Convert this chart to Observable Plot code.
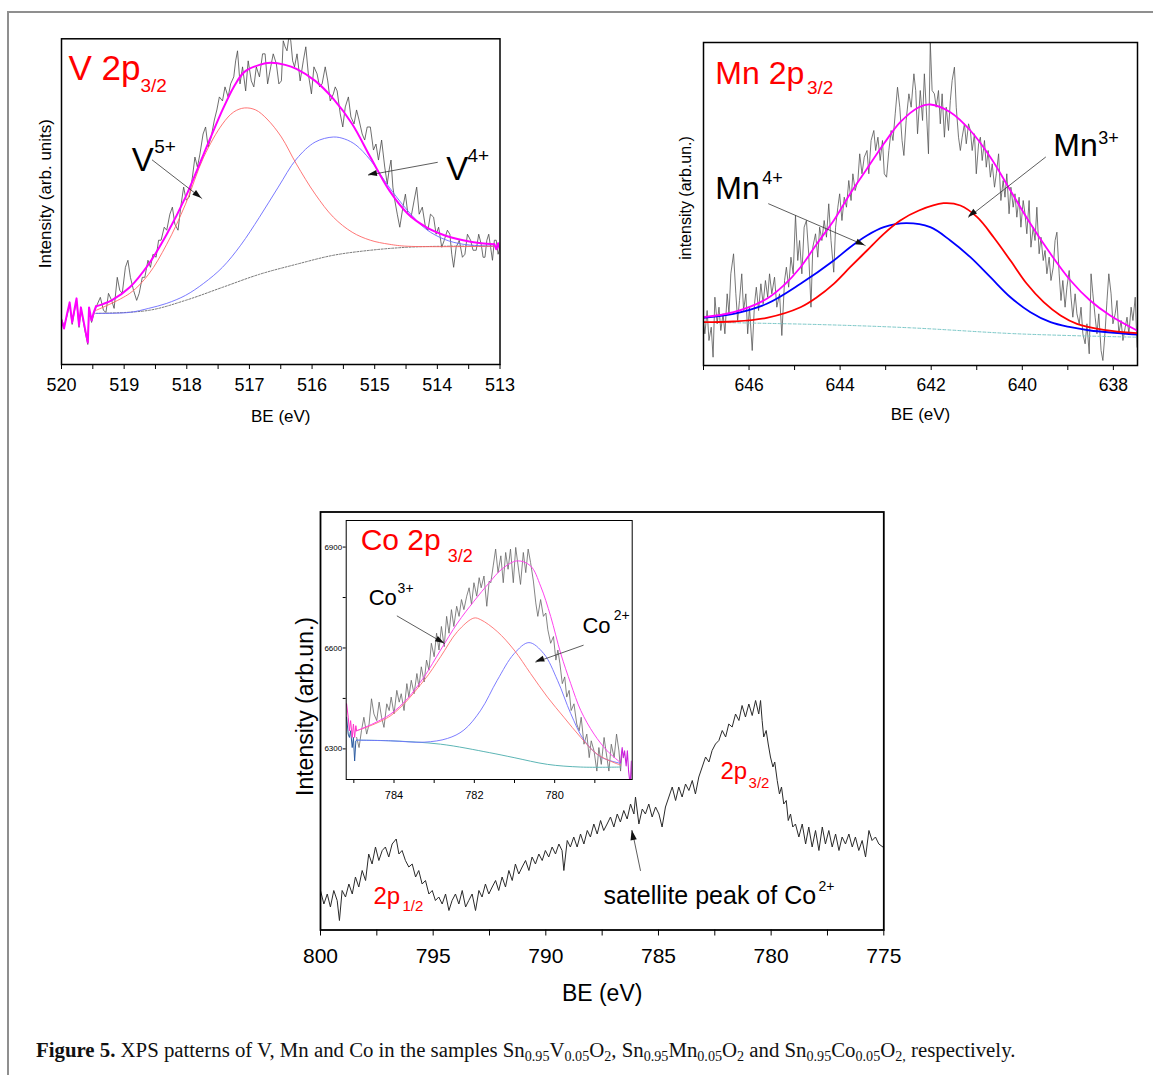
<!DOCTYPE html>
<html><head><meta charset="utf-8">
<script src="https://cdn.jsdelivr.net/npm/d3@7"></script>
<script src="https://cdn.jsdelivr.net/npm/@observablehq/plot@0.6"></script>
<style>
body{margin:0;background:#fff;}
#fig{position:relative;width:1153px;height:1075px;overflow:hidden;background:#fff;font-family:"Liberation Sans",Arial,sans-serif;}
#btop{position:absolute;left:7px;top:11px;width:1146px;height:2px;background:#8f8f8f;}
#bleft{position:absolute;left:7px;top:11px;width:2px;height:1064px;background:#8f8f8f;}
#cap{position:absolute;left:36px;top:1040px;font-family:"Liberation Serif","Times New Roman",serif;font-size:20.8px;line-height:20px;color:#111;white-space:nowrap;}
#cap sub{font-size:0.68em;vertical-align:-0.25em;line-height:0;}
</style></head>
<body><div id="fig"><div id="btop"></div><div id="bleft"></div>
<div id="cap"><b>Figure 5.</b> XPS patterns of V, Mn and Co in the samples Sn<sub>0.95</sub>V<sub>0.05</sub>O<sub>2</sub>, Sn<sub>0.95</sub>Mn<sub>0.05</sub>O<sub>2</sub> and Sn<sub>0.95</sub>Co<sub>0.05</sub>O<sub>2,</sub> respectively.</div>
</div>
<script>
// ---------------- V 2p3/2 ----------------
const vRaw = [[520.00,46],[519.96,38],[519.91,49],[519.87,60],[519.83,40],[519.79,54],[519.76,64],[519.72,37],[519.69,55],[519.65,42],[519.62,32],[519.58,20],[519.56,55],[519.52,42],[519.49,49],
[519.45,57],[519.38,67],[519.33,54],[519.29,52],[519.25,71],[519.20,64],[519.16,56],[519.11,87],[519.07,74],[519.03,71],[518.98,97],[518.94,104],[518.90,87],[518.85,74],[518.80,64],[518.76,71],[518.71,87],[518.67,87],[518.62,104],[518.58,97],[518.54,110],[518.49,107],[518.45,124],[518.41,124],[518.36,137],[518.32,134],[518.27,150],[518.23,157],[518.19,140],[518.14,134],[518.09,160],[518.05,177],[518.01,164],[517.96,167],[517.91,187],[517.87,207],[517.83,197],[517.79,210],[517.74,230],[517.70,237],[517.66,217],[517.61,227],[517.56,244],[517.52,254],[517.48,267],[517.43,263],[517.39,277],[517.34,267],[517.30,280],[517.25,287],[517.22,303],[517.19,313],[517.15,280],[517.11,297],[517.06,273],[517.02,303],[516.97,283],[516.93,277],[516.89,297],[516.84,287],[516.79,310],[516.75,310],[516.71,280],[516.66,297],[516.62,310],[516.57,300],[516.53,280],[516.49,283],[516.46,323],[516.43,317],[516.40,313],[516.37,327],[516.34,323],[516.31,303],[516.28,297],[516.24,310],[516.19,283],[516.14,303],[516.10,317],[516.06,290],[516.01,270],[515.97,297],[515.92,290],[515.88,277],[515.84,280],[515.79,297],[515.75,283],[515.71,263],[515.66,270],[515.63,277],[515.60,273],[515.55,250],[515.51,237],[515.47,257],[515.42,267],[515.38,247],[515.33,240],[515.29,254],[515.25,244],[515.20,230],[515.16,224],[515.12,237],[515.07,237],[515.02,214],[514.98,220],[514.94,204],[514.89,224],[514.84,197],[514.80,180],[514.77,194],[514.74,204],[514.71,177],[514.68,164],[514.64,150],[514.60,137],[514.55,157],[514.51,170],[514.47,150],[514.42,147],[514.37,164],[514.33,177],[514.29,150],[514.24,157],[514.19,137],[514.15,134],[514.11,150],[514.06,147],[514.02,130],[513.98,137],[513.93,117],[513.89,124],[513.84,134],[513.80,130],[513.77,110],[513.74,97],[513.70,117],[513.65,124],[513.60,107],[513.56,110],[513.52,130],[513.47,124],[513.43,114],[513.38,114],[513.34,130],[513.30,120],[513.27,107],[513.24,107],[513.21,124],[513.18,130],[513.15,117],[513.12,104],[513.09,124],[513.06,124],[513.03,110],[513.00,117]];
const vEnvNoiseLeft = [[520.00,44],[519.96,36],[519.91,51],[519.87,62],[519.83,42],[519.79,56],[519.76,66],[519.72,39],[519.69,57],[519.65,44],[519.62,34],[519.58,22],[519.56,57],[519.52,44],[519.49,51],[519.45,58]];
const vEnvelope = [[519.45,58],[519.20,64],[518.91,77],[518.61,100],[518.32,130],[518.02,167],[517.73,210],[517.43,254],[517.25,277],[517.08,292],[516.84,299],[516.66,301],[516.43,299],[516.25,295],[515.95,283],[515.66,265],[515.36,240],[515.07,207],[514.77,174],[514.48,151],[514.18,137],[513.89,129],[513.59,124],[513.30,121],[513.09,120]];
const vEnvNoiseRight = [[513.09,120],[513.06,115],[513.03,121],[513.00,114]];
const vPeak5 = [[519.45,54],[518.91,71],[518.61,90],[518.32,120],[518.02,160],[517.73,207],[517.43,240],[517.25,252],[517.08,256],[516.90,254],[516.72,245],[516.49,227],[516.25,200],[515.95,170],[515.66,147],[515.36,132],[515.07,124],[514.77,120],[514.48,118],[513.09,118]];
const vPeak4 = [[519.45,51],[518.91,52],[518.61,56],[518.32,61],[518.02,69],[517.73,81],[517.43,97],[517.14,119],[516.84,147],[516.54,177],[516.25,205],[515.95,222],[515.66,227],[515.48,225],[515.30,219],[515.07,204],[514.77,177],[514.48,154],[514.18,135],[513.89,125],[513.59,120],[513.09,118]];
const vBackground = [[519.45,51],[518.61,54],[518.02,64],[517.43,77],[516.84,90],[516.25,100],[515.66,109],[515.07,114],[514.48,117],[513.89,118],[513.09,118]];
const vTicksMajor = [520,519,518,517,516,515,514,513];
const vTicksMinor = [519.5,518.5,517.5,516.5,515.5,514.5,513.5];
const vTitle = [{t:"V 2p",x:519.89,y:284}], vTitleSub = [{t:"3/2",x:518.74,y:272}];
const vIons = [{t:"V",x:518.88,y:193},{t:"V",x:513.86,y:184}];
const vIonSup = [{t:"5+",x:518.52,y:211},{t:"4+",x:513.52,y:202}];
const vArrows = [{x1:518.55,y1:204,x2:517.76,y2:165.7},{x1:514.00,y1:201.7,x2:515.10,y2:189}];

// ---------------- Mn 2p3/2 ----------------
const mnRaw = [[647.01,48],[646.97,31.7],[646.92,55],[646.88,25],[646.83,38.3],[646.79,8.3],[646.75,68.3],[646.70,41.7],[646.66,58.3],[646.62,35],[646.57,51.7],[646.53,31.7],[646.48,71.7],[646.44,51.7],[646.40,91.7],[646.34,111.7],[646.29,71.7],[646.25,45],[646.21,65],[646.16,91.7],[646.12,55],[646.07,71.7],[646.03,31.7],[645.99,58.3],[645.93,15],[645.88,61.7],[645.84,78.3],[645.79,55],[645.74,81.7],[645.69,61.7],[645.64,85],[645.59,68.3],[645.55,91.7],[645.50,71.7],[645.44,88.3],[645.39,58.3],[645.33,71.7],[645.28,30],[645.22,85],[645.18,98.3],[645.13,78.3],[645.08,108.3],[645.03,91.7],[644.98,150],[644.93,105],[644.89,125],[644.84,91.7],[644.79,138.3],[644.74,145],[644.69,111.7],[644.64,58.3],[644.60,118.3],[644.54,131.7],[644.49,108.3],[644.45,138.3],[644.40,125],[644.35,145],[644.30,128.3],[644.25,161.7],[644.20,125],[644.14,93.3],[644.10,138.3],[644.05,158.3],[644.01,171.7],[643.96,145],[643.91,168.3],[643.86,158.3],[643.81,185],[643.76,165],[643.72,191.7],[643.67,175],[643.61,185],[643.57,211.7],[643.52,191.7],[643.47,208.3],[643.41,215],[643.37,191.7],[643.32,225],[643.26,235],[643.22,215],[643.17,228.3],[643.12,205],[643.07,225],[643.03,191.7],[642.98,188.3],[642.93,215],[642.88,235],[642.84,225],[642.79,251.7],[642.74,278.3],[642.69,258.3],[642.64,225],[642.60,210],[642.55,245],[642.49,271.7],[642.44,258.3],[642.38,291.7],[642.34,275],[642.30,231.7],
[642.24,275],[642.19,245],[642.15,291.7],[642.11,258.3],[642.06,211.7],[642.02,323],[641.98,275],[641.93,271.7],[641.89,258.3],[641.84,275],[641.80,241.7],[641.76,271.7],[641.71,228.3],[641.67,258.3],[641.62,235],[641.58,265],[641.54,285],[641.49,298.3],[641.45,258.3],[641.40,228.3],[641.36,215],[641.32,228.3],[641.27,241.7],[641.23,221.7],[641.18,241.7],[641.14,235],[641.10,215],[641.05,231.7],[641.01,191.7],[640.96,221.7],[640.92,228.3],[640.88,205],[640.83,225],[640.79,198.3],[640.75,215],[640.70,188.3],[640.66,201.7],[640.61,178.3],[640.57,191.7],[640.52,211.7],[640.47,165],[640.42,185],[640.38,168.3],[640.34,191.7],[640.29,151.7],[640.25,178.3],[640.20,158.3],[640.16,171.7],[640.12,148.3],[640.07,168.3],[640.03,138.3],[639.98,165],[639.94,151.7],[639.90,131.7],[639.85,165],[639.81,118.3],[639.76,138.3],[639.72,125],[639.68,158.3],[639.63,111.7],[639.59,128.3],[639.54,105],[639.50,115],[639.46,91.7],[639.41,108.3],[639.37,85],[639.32,98.3],[639.28,125],[639.24,133.3],[639.19,91.7],[639.15,65],[639.11,85],[639.06,58.3],[639.02,78.3],[638.97,95],[638.93,68.3],[638.89,48.3],[638.84,71.7],[638.80,51.7],[638.75,41.7],[638.71,58.3],[638.67,31.7],[638.62,21.7],[638.58,41.7],[638.53,11.7],[638.49,91.7],[638.45,71.7],[638.40,48.3],[638.36,31.7],[638.32,51.7],[638.27,15],[638.23,5],[638.18,35],[638.14,65],[638.10,91.7],[638.05,71.7],[638.01,41.7],[637.96,51.7],[637.92,65],[637.88,31.7],[637.83,45],[637.79,25],[637.74,38.3],[637.70,48.3],[637.66,31.7],[637.61,58.3],[637.57,45],[637.52,68.3],[637.48,18.3]];
const mnEnvelope = [[647.01,48.3],[646.34,53.3],[645.61,66.7],[645.24,80],[644.87,98.3],[644.51,121.7],[644.14,145],[643.78,171.7],[643.41,196.7],[643.04,221.7],[642.68,243.3],[642.27,258.3],[642.02,261],[641.58,253.3],[641.14,235],[640.70,208.3],[640.26,175],[639.82,141.7],[639.38,111.7],[638.94,85],[638.51,65],[638.07,50],[637.48,35]];
const mnPeak4 = [[647.01,47.7],[646.34,51.7],[645.61,61.7],[644.87,81.7],[644.14,105],[643.78,118.3],[643.41,130],[643.04,138.3],[642.55,142.3],[642.02,138.3],[641.58,125],[641.14,108.3],[640.70,88.3],[640.26,68.3],[639.82,53.3],[639.38,43.3],[638.94,38.3],[638.51,35],[637.48,31]];
const mnPeak3 = [[647.01,43.3],[646.34,44],[645.61,47.7],[644.87,58.3],[644.51,68.3],[644.14,81.7],[643.78,98.3],[643.41,115],[643.04,131.7],[642.68,145],[642.27,155],[641.73,162.3],[641.36,160],[640.99,148.3],[640.63,128.3],[640.26,105],[639.90,81.7],[639.53,63.3],[639.16,50],[638.80,41.7],[638.21,35.7],[637.48,32.3]];
const mnBackground = [[647.01,43.3],[644.5,41],[642.46,37.7],[640.26,32],[639.0,30],[637.48,28.3]];
const mnTicksMajor = [646,644,642,640,638];
const mnTicksMinor = [647,645,643,641,639];
const mnTitle = [{t:"Mn 2p",x:646.74,y:281.7}], mnTitleSub = [{t:"3/2",x:644.73,y:272}];
const mnIons = [{t:"Mn",x:646.74,y:166.7},{t:"Mn",x:639.32,y:210}];
const mnIonSup = [{t:"4+",x:645.71,y:182},{t:"3+",x:638.33,y:222}];
const mnArrows = [{x1:645.57,y1:161.7,x2:643.45,y2:120},{x1:639.49,y1:208.3,x2:641.18,y2:148.3}];

// ---------------- Co 2p survey ----------------
const coSurvey = [[800.00,39.5],[799.85,26],[799.70,36],[799.56,23],[799.41,39.5],[799.26,29.5],[799.16,9.5],[799.04,39.5],[798.89,33],[798.74,46],[798.59,36],[798.45,53],[798.30,43],[798.15,59.5],[798.00,49.5],[797.86,76],[797.71,66],[797.56,83],[797.41,69.5],[797.26,79.5],[797.12,83],[796.97,73],[796.82,86],[796.64,91],[796.52,76],[796.38,79.5],[796.23,69.5],[796.08,63],[795.93,66],[795.78,53],[795.64,59.5],[795.49,46],[795.34,49.5],[795.19,36],[795.04,39.5],[794.90,29.5],[794.75,33],[794.60,26],[794.45,36],[794.30,19.5],[794.16,29.5],[794.01,36],[793.86,26],[793.71,39.5],[793.56,23],[793.42,29.5],[793.27,36],[793.12,19.5],[792.97,39.5],[792.83,33],[792.68,46],[792.53,36],[792.38,43],[792.23,49.5],[792.09,39.5],[791.94,53],[791.79,43],[791.64,59.5],[791.49,49.5],[791.35,66],[791.20,56],[791.05,63],[790.90,69.5],[790.75,59.5],[790.61,73],[790.46,66],[790.31,76],[790.16,69.5],[790.02,79.5],[789.87,73],[789.72,83],[789.57,76],[789.42,86],[789.28,79.5],[789.20,59.5],[789.05,89.5],[788.91,83],[788.76,93],[788.61,83],[788.46,96],[788.31,86],[788.16,99.5],[788.02,93],[787.87,106],[787.72,96],[787.57,109.5],[787.43,99.5],[787.28,106],[787.13,113],[786.98,103],[786.83,116],[786.69,108],[786.54,119.5],[786.39,111],[786.24,126],[786.09,116],[786.02,133],[785.87,106],[785.72,121],[785.58,116],[785.43,126],[785.28,113],[785.13,123],[784.98,116],[784.84,103],[784.69,123],[784.54,133],[784.39,143],[784.24,129.5],[784.10,143],[783.95,133],[783.80,146],[783.65,139.5],[783.50,149.5],[783.36,136],[783.21,153],[783.06,163],[782.91,173],[782.76,168],[782.62,179.5],[782.47,186],[782.32,189.5],[782.17,199.5],[782.02,193],[781.88,206],[781.73,203],[781.58,216],[781.43,209.5],[781.29,224.5],[781.14,213],[780.99,226],[780.84,214.5],[780.69,229.5],[780.55,216],[780.47,229.5],[780.40,209.5],[780.33,193],[780.22,199.5],[780.13,186],[780.03,173],[779.92,163],[779.84,168],[779.73,149.5],[779.63,136],[779.54,143],[779.44,126],[779.33,129.5],[779.24,109.5],[779.14,116],[779.04,103],[778.92,106],[778.77,93],[778.62,106],[778.47,86],[778.33,103],[778.18,83],[778.03,99.5],[777.88,79.5],[777.73,103],[777.59,86],[777.44,99.5],[777.29,83],[777.14,96],[776.99,79.5],[776.85,93],[776.70,86],[776.55,96],[776.40,83],[776.26,93],[776.11,79.5],[775.96,89.5],[775.81,73],[775.66,99.5],[775.52,89.5],[775.37,93],[775.22,86],[775.04,83]];
const coTicksMajor = [800,795,790,785,780,775];
const coTicksMinor = [797.5,792.5,787.5,782.5,777.5];
const coPeakLabels = [{t:"2p",x:797.65,y:26.5},{t:"2p",x:782.25,y:151.5}];
const coPeakSubs = [{t:"1/2",x:796.36,y:19.5},{t:"3/2",x:781.0,y:142.5}];
const coSat = [{t:"satellite peak of Co",x:787.44,y:26}], coSatSup = [{t:"2+",x:777.9,y:39.5}];
const coSatArrow = [{x1:785.80,y1:59.5,x2:786.17,y2:99.5}];

// ---------------- Co 2p3/2 inset ----------------
const coInsetRaw = [[784.93,6334],[784.87,6304],[784.81,6354],[784.75,6394],[784.68,6344],[784.62,6374],[784.56,6449],[784.50,6404],[784.43,6384],[784.37,6439],[784.31,6394],[784.25,6364],[784.18,6434],[784.12,6414],[784.07,6454],[784.00,6404],[783.93,6474],[783.87,6439],[783.82,6464],[783.75,6414],[783.68,6494],[783.63,6454],[783.57,6504],[783.50,6464],[783.43,6524],[783.38,6484],[783.32,6544],[783.25,6499],[783.19,6564],[783.13,6534],[783.07,6614],[783.00,6574],[782.94,6644],[782.88,6594],[782.82,6664],[782.75,6604],[782.69,6694],[782.63,6644],[782.57,6714],[782.51,6664],[782.44,6724],[782.38,6694],[782.32,6744],[782.26,6714],[782.19,6754],[782.13,6779],[782.07,6729],[782.01,6794],[781.94,6754],[781.88,6809],[781.83,6779],[781.76,6814],[781.69,6724],[781.63,6799],[781.59,6794],[781.53,6844],[781.47,6894],[781.41,6824],[781.34,6874],[781.28,6794],[781.22,6884],[781.16,6834],[781.10,6894],[781.03,6794],[780.97,6899],[780.91,6844],[780.85,6789],[780.78,6884],[780.72,6824],[780.66,6894],[780.60,6854],[780.53,6799],[780.47,6734],[780.42,6694],[780.35,6744],[780.28,6694],[780.22,6704],[780.17,6654],[780.10,6614],[780.03,6634],[779.97,6564],[779.92,6594],[779.87,6554],[779.81,6494],[779.75,6514],[779.70,6454],[779.64,6474],[779.59,6414],[779.52,6434],[779.45,6374],[779.39,6354],[779.34,6394],[779.27,6314],[779.20,6344],[779.14,6274],[779.09,6324],[779.02,6294],[778.95,6234],[778.90,6304],[778.84,6254],[778.77,6334],[778.70,6274],[778.65,6234],[778.59,6314],[778.52,6274],[778.46,6344],[778.40,6294],[778.36,6234],[778.32,6294]];
const coInsetEnvNoiseLeft = [[785.18,6434],[785.14,6394],[785.11,6354],[785.08,6384],[785.04,6334],[785.01,6374],[784.98,6334],[784.95,6369],[784.93,6354]];
const coInsetEnvelope = [[784.93,6354],[784.50,6376],[784.08,6404],[783.67,6449],[783.25,6514],[782.84,6594],[782.42,6674],[782.01,6739],[781.63,6794],[781.30,6836],[780.93,6859],[780.60,6844],[780.35,6784],[780.10,6694],[779.85,6584],[779.60,6494],[779.35,6414],[779.02,6344],[778.69,6294],[778.36,6259]];
const coInsetEnvNoiseRight = [[778.36,6259],[778.32,6304],[778.29,6274],[778.26,6294],[778.22,6249],[778.19,6294],[778.16,6234],[778.12,6194],[778.09,6264],[778.07,6204]];
const coInsetPeak3 = [[784.93,6354],[784.08,6399],[783.25,6504],[782.84,6574],[782.42,6649],[782.01,6689],[781.84,6684],[781.43,6649],[781.01,6594],[780.60,6524],[780.18,6454],[779.77,6394],[779.35,6334],[778.94,6284],[778.52,6259],[778.36,6252]];
const coInsetPeak2 = [[784.93,6326],[784.08,6324],[783.25,6320],[782.67,6331],[782.26,6356],[781.84,6415],[781.43,6504],[781.01,6583],[780.64,6616],[780.27,6583],[779.93,6504],[779.60,6405],[779.27,6326],[778.85,6276],[778.36,6257]];
const coInsetBgNoise = [[785.18,6394],[785.14,6344],[785.11,6334],[785.08,6354],[785.04,6304],[785.01,6334],[784.98,6264],[784.95,6324],[784.93,6326]];
const coInsetBackground = [[784.93,6326],[784.08,6324],[782.84,6314],[781.63,6289],[781.01,6274],[780.18,6254],[779.35,6246],[778.36,6246]];
const insetXMajor = [784,782,780], insetXMinor = [785,783,781,779];
const insetYMajor = [6300,6600,6900], insetYMinor = [6450,6750];
const insetTitle = [{t:"Co 2p",x:784.83,y:6890}], insetTitleSub = [{t:"3/2",x:782.66,y:6855}];
const insetIons = [{t:"Co",x:784.63,y:6727},{t:"Co",x:779.31,y:6644}];
const insetIonSup = [{t:"3+",x:783.91,y:6762},{t:"2+",x:778.53,y:6682}];
const insetArrows = [{x1:783.92,y1:6695,x2:782.74,y2:6613},{x1:779.29,y1:6608,x2:780.47,y2:6558}];

// ---------------- helpers ----------------
const fig = document.getElementById("fig");
const FONT = "'Liberation Sans', Arial, Helvetica, sans-serif";
const NS = "http://www.w3.org/2000/svg";
const X0 = d => d[0], Y0 = d => d[1];
function place(svg, left, top) {
  svg.style.position = "absolute"; svg.style.left = left + "px"; svg.style.top = top + "px";
  svg.style.maxWidth = "none"; svg.style.background = "none"; svg.style.overflow = "visible";
  fig.appendChild(svg);
}
function ln(data, stroke, strokeWidth, extra = {}) {
  return Plot.line(data, {x: X0, y: Y0, stroke, strokeWidth, clip: true, strokeLinejoin: "round", ...extra});
}
function txt(data, fontSize, fill = "black", extra = {}) {
  return Plot.text(data, {x: "x", y: "y", text: "t", fontSize, fill, textAnchor: "start", lineAnchor: "bottom", ...extra});
}
function ylab(s, fontSize, dx, dy) {
  return Plot.text([s], {frameAnchor: "left", rotate: -90, textAnchor: "middle", lineAnchor: "middle", dx, dy, fontSize});
}
function xlab(s, fontSize, dy) {
  return Plot.text([s], {frameAnchor: "bottom", textAnchor: "middle", lineAnchor: "bottom", dy, fontSize});
}
function heads(data, len, half) {
  return (index, scales) => {
    const g = document.createElementNS(NS, "g");
    for (const a of data) {
      const x1 = scales.x(a.x1), y1 = scales.y(a.y1), x2 = scales.x(a.x2), y2 = scales.y(a.y2);
      const dx = x2 - x1, dy = y2 - y1, L = Math.hypot(dx, dy), ux = dx / L, uy = dy / L;
      const bx = x2 - ux * len, by = y2 - uy * len;
      const p = document.createElementNS(NS, "path");
      p.setAttribute("d", `M${x2},${y2}L${bx - uy * half},${by + ux * half}L${bx + uy * half},${by - ux * half}Z`);
      p.setAttribute("fill", "#111");
      g.appendChild(p);
    }
    return g;
  };
}
function arrowMarks(data, len = 9, half = 3) {
  return [Plot.arrow(data, {x1: "x1", y1: "y1", x2: "x2", y2: "y2", stroke: "#333", strokeWidth: 0.8, headLength: 0}), heads(data, len, half)];
}
function xAxes(major, minor, o) {
  return [
    Plot.axisX(major, {anchor: "bottom", tickSize: o.size, tickPadding: o.pad, fontSize: o.font, tickFormat: d => String(d), label: null, strokeWidth: 1}),
    Plot.axisX(minor, {anchor: "bottom", tickSize: o.size, tickFormat: () => "", label: null, strokeWidth: 1})
  ];
}

// ---------------- V panel ----------------
place(Plot.plot({
  width: 560, height: 440, marginLeft: 61, marginRight: 60.5, marginTop: 38.3, marginBottom: 76,
  style: {fontFamily: FONT, background: "none", color: "black"},
  x: {domain: [520, 513], axis: null, label: null}, y: {domain: [0, 325], axis: null, label: null},
  marks: [
    ln(vRaw, "#4a4a4a", 0.8),
    ln(vBackground, "#555", 0.8, {strokeDasharray: "2,1.5", curve: "catmull-rom"}),
    ln(vPeak4, "#6a6aff", 0.9, {curve: "catmull-rom"}),
    ln(vPeak5, "#ff6666", 0.9, {curve: "catmull-rom"}),
    ln(vEnvNoiseLeft, "#ff00ff", 2),
    ln(vEnvelope, "#ff00ff", 2, {curve: "catmull-rom"}),
    ln(vEnvNoiseRight, "#ff00ff", 2),
    Plot.frame({stroke: "black", strokeWidth: 1.5}),
    ...xAxes(vTicksMajor, vTicksMinor, {size: 5, pad: 9, font: 18}),
    xlab("BE (eV)", 17, 57),
    ylab("Intensity (arb. units)", 17, -16, -8),
    txt(vTitle, 35, "red"), txt(vTitleSub, 19, "red"),
    txt(vIons, 33), txt(vIonSup, 19),
    ...arrowMarks(vArrows)
  ]
}), 0, 0);

// ---------------- Mn panel ----------------
place(Plot.plot({
  width: 553, height: 440, marginLeft: 103, marginRight: 16, marginTop: 42, marginBottom: 75,
  style: {fontFamily: FONT, background: "none", color: "black"},
  x: {domain: [647, 637.47], axis: null, label: null}, y: {domain: [0, 323], axis: null, label: null},
  marks: [
    ln(mnRaw, "#555", 0.8),
    ln(mnBackground, "#7cc8c8", 1, {strokeDasharray: "3,2", curve: "catmull-rom"}),
    ln(mnPeak4, "#0000ff", 1.8, {curve: "catmull-rom"}),
    ln(mnPeak3, "#ff0000", 1.8, {curve: "catmull-rom"}),
    ln(mnEnvelope, "#ff00ff", 1.8, {curve: "catmull-rom"}),
    Plot.frame({stroke: "black", strokeWidth: 1.5}),
    ...xAxes(mnTicksMajor, mnTicksMinor, {size: 5, pad: 8, font: 17.5}),
    xlab("BE (eV)", 17, 54),
    ylab("intensity (arb.un.)", 16, -18, -6),
    txt(mnTitle, 32, "red"), txt(mnTitleSub, 19, "red"),
    txt(mnIons, 32), txt(mnIonSup, 18),
    ...arrowMarks(mnArrows)
  ]
}), 600, 0);

// ---------------- Co survey panel ----------------
place(Plot.plot({
  width: 660, height: 545, marginLeft: 70, marginRight: 26.7, marginTop: 31.5, marginBottom: 95.5,
  style: {fontFamily: FONT, background: "none", color: "black"},
  x: {domain: [800, 775], axis: null, label: null}, y: {domain: [0, 418], axis: null, label: null},
  marks: [
    ln(coSurvey, "#2a2a2a", 1),
    Plot.frame({stroke: "black", strokeWidth: 1.8}),
    ...xAxes(coTicksMajor, coTicksMinor, {size: 6, pad: 12.5, font: 21}),
    xlab("BE (eV)", 23, 70.5),
    ylab("Intensity (arb.un.)", 23, -15, -14.5),
    txt(coPeakLabels, 24, "red"), txt(coPeakSubs, 15, "red"),
    txt(coSat, 25), txt(coSatSup, 14),
    ...arrowMarks(coSatArrow, 10, 3.2)
  ]
}), 250, 480);

// ---------------- Co inset ----------------
place(Plot.plot({
  width: 345, height: 310, marginLeft: 45.7, marginRight: 13.3, marginTop: 15, marginBottom: 36,
  style: {fontFamily: FONT, background: "none", color: "black"},
  x: {domain: [785.19, 778.07], axis: null, label: null}, y: {domain: [6209, 6979], axis: null, label: null},
  marks: [
    ln(coInsetRaw, "#666", 0.8),
    ln(coInsetBackground, "#5cb5b5", 1, {curve: "catmull-rom"}),
    ln(coInsetBgNoise, "#2a5aa0", 1),
    ln(coInsetPeak2, "#6e6eff", 0.9, {curve: "catmull-rom"}),
    ln(coInsetPeak3, "#ff6e6e", 0.9, {curve: "catmull-rom"}),
    ln(coInsetEnvelope, "#ff44ee", 1, {curve: "catmull-rom"}),
    ln(coInsetEnvNoiseLeft, "#ff33cc", 1),
    ln(coInsetEnvNoiseRight, "#cc22dd", 1.1),
    Plot.frame({stroke: "black", strokeWidth: 1}),
    ...xAxes(insetXMajor, insetXMinor, {size: 4, pad: 8, font: 11}),
    Plot.axisY(insetYMajor, {anchor: "left", tickSize: 3, tickPadding: 1, fontSize: 8, tickFormat: d => String(d), label: null, strokeWidth: 1}),
    Plot.axisY(insetYMinor, {anchor: "left", tickSize: 3, tickFormat: () => "", label: null, strokeWidth: 1}),
    txt(insetTitle, 30, "red"), txt(insetTitleSub, 18, "red"),
    txt(insetIons, 22), txt(insetIonSup, 14),
    ...arrowMarks(insetArrows, 9, 3)
  ]
}), 300, 505);
</script></body></html>
